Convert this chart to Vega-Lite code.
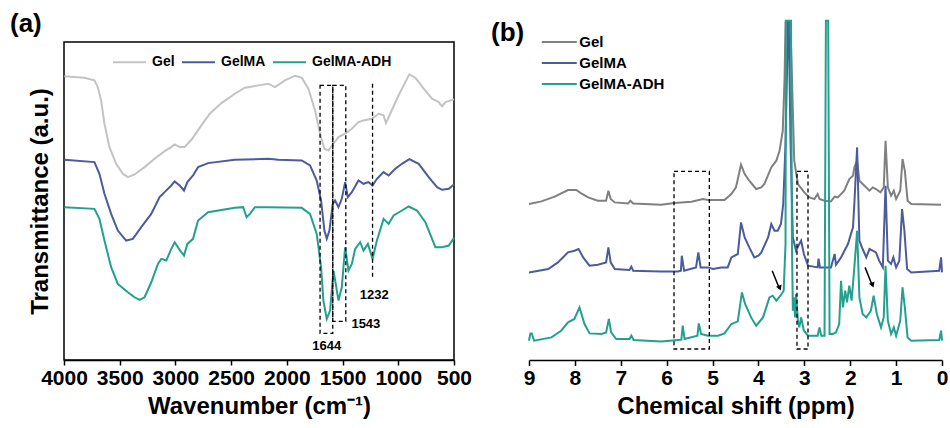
{
"$schema":"https://vega.github.io/schema/vega-lite/v6.json",
"padding":{"left":9,"top":10,"right":0,"bottom":0},
"background":"white",
"config":{
 "font":"Liberation Sans",
 "axis":{"labelFont":"Liberation Sans","titleFont":"Liberation Sans","labelFontWeight":"bold","titleFontWeight":"bold","labelFontSize":21,"titleFontSize":24,"labelColor":"black","titleColor":"black","domainColor":"black","tickColor":"black","domainWidth":1.5,"tickWidth":1.5,"grid":false},
 "title":{"font":"Liberation Sans","fontSize":26,"fontWeight":"bold","color":"black"}
},
"spacing":75,
"bounds":"flush",
"resolve":{"scale":{"color":"independent","x":"independent","y":"independent"},"legend":{"color":"independent"}},
"hconcat":[
{
 "width":390,"height":318,
 "title":{"text":"(a)","anchor":"start","frame":"group","dx":-54,"offset":-21,"baseline":"bottom"},
 "view":{"stroke":"black","strokeWidth":1.5},
 "layer":[
  {"data":{"values":[
{"s":"Gel","x":3997,"y":850},{"s":"Gel","x":3817,"y":846},{"s":"Gel","x":3727,"y":838},{"s":"Gel","x":3697,"y":818},{"s":"Gel","x":3667,"y":778},{"s":"Gel","x":3637,"y":708},{"s":"Gel","x":3592,"y":638},{"s":"Gel","x":3532,"y":588},{"s":"Gel","x":3472,"y":558},{"s":"Gel","x":3427,"y":548},{"s":"Gel","x":3367,"y":556},{"s":"Gel","x":3277,"y":578},{"s":"Gel","x":3187,"y":603},{"s":"Gel","x":3097,"y":626},{"s":"Gel","x":3037,"y":638},{"s":"Gel","x":3007,"y":646},{"s":"Gel","x":2962,"y":638},{"s":"Gel","x":2917,"y":638},{"s":"Gel","x":2857,"y":660},{"s":"Gel","x":2767,"y":703},{"s":"Gel","x":2692,"y":738},{"s":"Gel","x":2587,"y":770},{"s":"Gel","x":2467,"y":798},{"s":"Gel","x":2377,"y":816},{"s":"Gel","x":2332,"y":818},{"s":"Gel","x":2257,"y":823},{"s":"Gel","x":2167,"y":828},{"s":"Gel","x":2107,"y":818},{"s":"Gel","x":2017,"y":838},{"s":"Gel","x":1927,"y":852},{"s":"Gel","x":1867,"y":846},{"s":"Gel","x":1807,"y":813},{"s":"Gel","x":1747,"y":748},{"s":"Gel","x":1702,"y":678},{"s":"Gel","x":1663,"y":633},{"s":"Gel","x":1627,"y":628},{"s":"Gel","x":1582,"y":648},{"s":"Gel","x":1537,"y":668},{"s":"Gel","x":1477,"y":678},{"s":"Gel","x":1417,"y":693},{"s":"Gel","x":1357,"y":713},{"s":"Gel","x":1312,"y":718},{"s":"Gel","x":1237,"y":723},{"s":"Gel","x":1177,"y":738},{"s":"Gel","x":1132,"y":733},{"s":"Gel","x":1111,"y":710},{"s":"Gel","x":1072,"y":738},{"s":"Gel","x":1012,"y":783},{"s":"Gel","x":952,"y":823},{"s":"Gel","x":901,"y":856},{"s":"Gel","x":847,"y":846},{"s":"Gel","x":772,"y":813},{"s":"Gel","x":697,"y":783},{"s":"Gel","x":637,"y":773},{"s":"Gel","x":607,"y":760},{"s":"Gel","x":577,"y":773},{"s":"Gel","x":500,"y":781},
{"s":"GelMA","x":3997,"y":600},{"s":"GelMA","x":3727,"y":593},{"s":"GelMA","x":3682,"y":558},{"s":"GelMA","x":3637,"y":498},{"s":"GelMA","x":3577,"y":438},{"s":"GelMA","x":3517,"y":388},{"s":"GelMA","x":3442,"y":358},{"s":"GelMA","x":3382,"y":363},{"s":"GelMA","x":3307,"y":398},{"s":"GelMA","x":3217,"y":438},{"s":"GelMA","x":3142,"y":488},{"s":"GelMA","x":3097,"y":503},{"s":"GelMA","x":3037,"y":523},{"s":"GelMA","x":3007,"y":535},{"s":"GelMA","x":2962,"y":523},{"s":"GelMA","x":2923,"y":508},{"s":"GelMA","x":2893,"y":533},{"s":"GelMA","x":2842,"y":553},{"s":"GelMA","x":2797,"y":578},{"s":"GelMA","x":2707,"y":590},{"s":"GelMA","x":2467,"y":600},{"s":"GelMA","x":2167,"y":603},{"s":"GelMA","x":2077,"y":600},{"s":"GelMA","x":1867,"y":598},{"s":"GelMA","x":1792,"y":583},{"s":"GelMA","x":1732,"y":538},{"s":"GelMA","x":1693,"y":478},{"s":"GelMA","x":1663,"y":388},{"s":"GelMA","x":1642,"y":363},{"s":"GelMA","x":1618,"y":388},{"s":"GelMA","x":1588,"y":468},{"s":"GelMA","x":1567,"y":478},{"s":"GelMA","x":1537,"y":458},{"s":"GelMA","x":1507,"y":483},{"s":"GelMA","x":1477,"y":533},{"s":"GelMA","x":1453,"y":488},{"s":"GelMA","x":1417,"y":503},{"s":"GelMA","x":1357,"y":538},{"s":"GelMA","x":1312,"y":528},{"s":"GelMA","x":1267,"y":533},{"s":"GelMA","x":1231,"y":523},{"s":"GelMA","x":1192,"y":543},{"s":"GelMA","x":1132,"y":563},{"s":"GelMA","x":1087,"y":553},{"s":"GelMA","x":1027,"y":573},{"s":"GelMA","x":967,"y":588},{"s":"GelMA","x":901,"y":602},{"s":"GelMA","x":817,"y":588},{"s":"GelMA","x":727,"y":548},{"s":"GelMA","x":652,"y":518},{"s":"GelMA","x":607,"y":510},{"s":"GelMA","x":547,"y":513},{"s":"GelMA","x":500,"y":526},
{"s":"GelMA-ADH","x":3997,"y":458},{"s":"GelMA-ADH","x":3727,"y":453},{"s":"GelMA-ADH","x":3682,"y":423},{"s":"GelMA-ADH","x":3637,"y":358},{"s":"GelMA-ADH","x":3577,"y":278},{"s":"GelMA-ADH","x":3517,"y":228},{"s":"GelMA-ADH","x":3427,"y":203},{"s":"GelMA-ADH","x":3367,"y":188},{"s":"GelMA-ADH","x":3322,"y":180},{"s":"GelMA-ADH","x":3277,"y":188},{"s":"GelMA-ADH","x":3217,"y":233},{"s":"GelMA-ADH","x":3157,"y":288},{"s":"GelMA-ADH","x":3127,"y":303},{"s":"GelMA-ADH","x":3082,"y":298},{"s":"GelMA-ADH","x":3037,"y":333},{"s":"GelMA-ADH","x":3007,"y":353},{"s":"GelMA-ADH","x":2962,"y":330},{"s":"GelMA-ADH","x":2923,"y":313},{"s":"GelMA-ADH","x":2893,"y":348},{"s":"GelMA-ADH","x":2842,"y":363},{"s":"GelMA-ADH","x":2797,"y":418},{"s":"GelMA-ADH","x":2707,"y":443},{"s":"GelMA-ADH","x":2467,"y":456},{"s":"GelMA-ADH","x":2392,"y":458},{"s":"GelMA-ADH","x":2362,"y":428},{"s":"GelMA-ADH","x":2332,"y":438},{"s":"GelMA-ADH","x":2287,"y":458},{"s":"GelMA-ADH","x":2167,"y":458},{"s":"GelMA-ADH","x":1867,"y":456},{"s":"GelMA-ADH","x":1792,"y":438},{"s":"GelMA-ADH","x":1732,"y":378},{"s":"GelMA-ADH","x":1693,"y":278},{"s":"GelMA-ADH","x":1672,"y":178},{"s":"GelMA-ADH","x":1642,"y":123},{"s":"GelMA-ADH","x":1612,"y":148},{"s":"GelMA-ADH","x":1582,"y":268},{"s":"GelMA-ADH","x":1561,"y":228},{"s":"GelMA-ADH","x":1537,"y":178},{"s":"GelMA-ADH","x":1507,"y":218},{"s":"GelMA-ADH","x":1477,"y":338},{"s":"GelMA-ADH","x":1447,"y":268},{"s":"GelMA-ADH","x":1417,"y":288},{"s":"GelMA-ADH","x":1387,"y":333},{"s":"GelMA-ADH","x":1342,"y":353},{"s":"GelMA-ADH","x":1312,"y":328},{"s":"GelMA-ADH","x":1273,"y":348},{"s":"GelMA-ADH","x":1231,"y":303},{"s":"GelMA-ADH","x":1192,"y":358},{"s":"GelMA-ADH","x":1132,"y":423},{"s":"GelMA-ADH","x":1087,"y":408},{"s":"GelMA-ADH","x":1042,"y":433},{"s":"GelMA-ADH","x":967,"y":448},{"s":"GelMA-ADH","x":907,"y":460},{"s":"GelMA-ADH","x":832,"y":448},{"s":"GelMA-ADH","x":757,"y":413},{"s":"GelMA-ADH","x":667,"y":338},{"s":"GelMA-ADH","x":607,"y":338},{"s":"GelMA-ADH","x":547,"y":343},{"s":"GelMA-ADH","x":500,"y":366}
  ]},
  "mark":{"type":"line","strokeWidth":2},
  "encoding":{
   "x":{"field":"x","type":"quantitative","scale":{"domain":[500,4000],"reverse":true,"nice":false,"zero":false},
        "axis":{"title":"Wavenumber (cm⁻¹)","values":[500,750,1000,1250,1500,1750,2000,2250,2500,2750,3000,3250,3500,3750,4000],"format":"d","labelExpr":"datum.value % 500 === 0 ? datum.label : ''","tickSize":{"condition":{"test":"datum.value % 500 === 0","value":5},"value":3.5},"labelPadding":2,"titlePadding":6,"labelOverlap":false,"labelFlush":false}},
   "y":{"field":"y","type":"quantitative","scale":{"domain":[0,953],"nice":false,"zero":false},
        "axis":{"title":"Transmittance (a.u.)","labels":false,"ticks":false,"domain":false,"titlePadding":12}},
   "color":{"field":"s","type":"nominal","scale":{"domain":["Gel","GelMA","GelMA-ADH"],"range":["#c3c3c3","#4b5b9c","#23a08e"]},
        "legend":{"orient":"none","legendX":48,"legendY":2.5,"direction":"horizontal","title":null,"symbolType":"stroke","symbolSize":1089,"symbolStrokeWidth":2,"labelFontSize":14,"labelFontWeight":"bold","labelFont":"Liberation Sans","labelColor":"black","columnPadding":3,"labelOffset":5,"padding":0}}
  }},
  {"data":{"values":[{"x1":1702,"x2":1588,"y1":823,"y2":80},{"x1":1588,"x2":1471,"y1":823,"y2":116}]},
   "mark":{"type":"rect","filled":false,"stroke":"black","strokeWidth":1.3,"strokeDash":[4,3]},
   "encoding":{"x":{"field":"x1","type":"quantitative"},"x2":{"field":"x2"},"y":{"field":"y1","type":"quantitative"},"y2":{"field":"y2"}}},
  {"data":{"values":[{"x":1231,"y1":828,"y2":248}]},
   "mark":{"type":"rule","strokeDash":[4,3],"strokeWidth":1.3,"color":"black"},
   "encoding":{"x":{"field":"x","type":"quantitative"},"y":{"field":"y1","type":"quantitative"},"y2":{"field":"y2"}}},
  {"data":{"values":[{"x":1642,"y":41,"t":"1644"},{"x":1291,"y":108,"t":"1543"},{"x":1216,"y":196,"t":"1232"}]},
   "mark":{"type":"text","font":"Liberation Sans","fontSize":13,"fontWeight":"bold","color":"black"},
   "encoding":{"x":{"field":"x","type":"quantitative"},"y":{"field":"y","type":"quantitative"},"text":{"field":"t"}}}
 ]
},
{
 "width":413,"height":318,
 "title":{"text":"(b)","anchor":"start","frame":"group","dx":-38,"offset":-55,"baseline":"bottom"},
 "view":{"stroke":null},
 "layer":[
  {"data":{"values":[
{"s":"Gel","p":9.0,"v":156},{"s":"Gel","p":8.73,"v":158.6},{"s":"Gel","p":8.44,"v":163.3},{"s":"Gel","p":8.15,"v":170},{"s":"Gel","p":7.97,"v":170},{"s":"Gel","p":7.86,"v":166.6},{"s":"Gel","p":7.71,"v":162.6},{"s":"Gel","p":7.5,"v":159.3},{"s":"Gel","p":7.32,"v":159.3},{"s":"Gel","p":7.27,"v":169.3},{"s":"Gel","p":7.22,"v":161},{"s":"Gel","p":7.13,"v":157.6},{"s":"Gel","p":6.84,"v":156.6},{"s":"Gel","p":6.79,"v":159.3},{"s":"Gel","p":6.73,"v":156.6},{"s":"Gel","p":6.12,"v":155.3},{"s":"Gel","p":5.83,"v":157},{"s":"Gel","p":5.46,"v":158.3},{"s":"Gel","p":5.21,"v":161},{"s":"Gel","p":5.1,"v":160},{"s":"Gel","p":4.74,"v":160},{"s":"Gel","p":4.59,"v":166},{"s":"Gel","p":4.49,"v":172.6},{"s":"Gel","p":4.38,"v":195.3},{"s":"Gel","p":4.3,"v":186},{"s":"Gel","p":4.2,"v":179.3},{"s":"Gel","p":4.05,"v":171},{"s":"Gel","p":3.94,"v":172.6},{"s":"Gel","p":3.87,"v":176},{"s":"Gel","p":3.72,"v":192.6},{"s":"Gel","p":3.61,"v":199.3},{"s":"Gel","p":3.54,"v":209.3},{"s":"Gel","p":3.47,"v":229.3},{"s":"Gel","p":3.43,"v":282.6},{"s":"Gel","p":3.41,"v":338.3},{"s":"Gel","p":3.31,"v":338.3},{"s":"Gel","p":3.28,"v":299.3},{"s":"Gel","p":3.25,"v":249.3},{"s":"Gel","p":3.22,"v":199.3},{"s":"Gel","p":3.14,"v":176},{"s":"Gel","p":3.0,"v":167.6},{"s":"Gel","p":2.89,"v":162.6},{"s":"Gel","p":2.78,"v":161},{"s":"Gel","p":2.71,"v":166},{"s":"Gel","p":2.67,"v":161},{"s":"Gel","p":2.56,"v":159.3},{"s":"Gel","p":2.42,"v":158.6},{"s":"Gel","p":2.34,"v":163.3},{"s":"Gel","p":2.27,"v":162.6},{"s":"Gel","p":2.13,"v":169.3},{"s":"Gel","p":2.02,"v":181},{"s":"Gel","p":1.94,"v":184.3},{"s":"Gel","p":1.91,"v":192.6},{"s":"Gel","p":1.85,"v":199.3},{"s":"Gel","p":1.8,"v":179.3},{"s":"Gel","p":1.69,"v":174.3},{"s":"Gel","p":1.58,"v":169.3},{"s":"Gel","p":1.51,"v":172.6},{"s":"Gel","p":1.44,"v":171},{"s":"Gel","p":1.34,"v":167.6},{"s":"Gel","p":1.27,"v":172.6},{"s":"Gel","p":1.23,"v":219.3},{"s":"Gel","p":1.18,"v":172.6},{"s":"Gel","p":1.11,"v":164.3},{"s":"Gel","p":1.05,"v":169.3},{"s":"Gel","p":1.0,"v":161},{"s":"Gel","p":0.91,"v":169.3},{"s":"Gel","p":0.86,"v":201},{"s":"Gel","p":0.81,"v":189.3},{"s":"Gel","p":0.75,"v":159.3},{"s":"Gel","p":0.67,"v":156},{"s":"Gel","p":0.02,"v":155.3},
{"s":"GelMA","p":9.0,"v":87.6},{"s":"GelMA","p":8.58,"v":91},{"s":"GelMA","p":8.37,"v":97.6},{"s":"GelMA","p":8.15,"v":107.6},{"s":"GelMA","p":8.01,"v":109.3},{"s":"GelMA","p":7.92,"v":111},{"s":"GelMA","p":7.82,"v":102.6},{"s":"GelMA","p":7.68,"v":94.3},{"s":"GelMA","p":7.5,"v":95.3},{"s":"GelMA","p":7.32,"v":97.6},{"s":"GelMA","p":7.27,"v":112.6},{"s":"GelMA","p":7.22,"v":97.6},{"s":"GelMA","p":7.13,"v":91},{"s":"GelMA","p":6.81,"v":90},{"s":"GelMA","p":6.77,"v":93.3},{"s":"GelMA","p":6.73,"v":89.3},{"s":"GelMA","p":6.12,"v":88.6},{"s":"GelMA","p":5.75,"v":88.6},{"s":"GelMA","p":5.69,"v":89.3},{"s":"GelMA","p":5.67,"v":104.3},{"s":"GelMA","p":5.62,"v":89.3},{"s":"GelMA","p":5.36,"v":92.6},{"s":"GelMA","p":5.31,"v":107.6},{"s":"GelMA","p":5.26,"v":92.6},{"s":"GelMA","p":5.1,"v":92.6},{"s":"GelMA","p":4.99,"v":91},{"s":"GelMA","p":4.81,"v":92.6},{"s":"GelMA","p":4.67,"v":92.6},{"s":"GelMA","p":4.59,"v":102.6},{"s":"GelMA","p":4.45,"v":106},{"s":"GelMA","p":4.38,"v":137.6},{"s":"GelMA","p":4.3,"v":122.6},{"s":"GelMA","p":4.2,"v":112.6},{"s":"GelMA","p":4.09,"v":102.6},{"s":"GelMA","p":4.0,"v":104.3},{"s":"GelMA","p":3.94,"v":107.3},{"s":"GelMA","p":3.79,"v":122.6},{"s":"GelMA","p":3.72,"v":136},{"s":"GelMA","p":3.65,"v":129.3},{"s":"GelMA","p":3.58,"v":129.3},{"s":"GelMA","p":3.51,"v":136},{"s":"GelMA","p":3.46,"v":156},{"s":"GelMA","p":3.41,"v":216},{"s":"GelMA","p":3.38,"v":282.6},{"s":"GelMA","p":3.36,"v":338.3},{"s":"GelMA","p":3.34,"v":338.3},{"s":"GelMA","p":3.3,"v":216},{"s":"GelMA","p":3.25,"v":122.6},{"s":"GelMA","p":3.18,"v":109.3},{"s":"GelMA","p":3.11,"v":116},{"s":"GelMA","p":3.07,"v":119.3},{"s":"GelMA","p":3.01,"v":106},{"s":"GelMA","p":2.92,"v":94.3},{"s":"GelMA","p":2.71,"v":92.6},{"s":"GelMA","p":2.69,"v":101.3},{"s":"GelMA","p":2.66,"v":92.6},{"s":"GelMA","p":2.42,"v":92.6},{"s":"GelMA","p":2.34,"v":106},{"s":"GelMA","p":2.31,"v":95.3},{"s":"GelMA","p":2.2,"v":102.6},{"s":"GelMA","p":2.05,"v":116},{"s":"GelMA","p":1.94,"v":132.6},{"s":"GelMA","p":1.91,"v":156},{"s":"GelMA","p":1.85,"v":212.6},{"s":"GelMA","p":1.8,"v":119.3},{"s":"GelMA","p":1.73,"v":111},{"s":"GelMA","p":1.65,"v":102.6},{"s":"GelMA","p":1.58,"v":111},{"s":"GelMA","p":1.51,"v":109.3},{"s":"GelMA","p":1.44,"v":107.6},{"s":"GelMA","p":1.37,"v":99.3},{"s":"GelMA","p":1.29,"v":92.6},{"s":"GelMA","p":1.23,"v":174.3},{"s":"GelMA","p":1.18,"v":99.3},{"s":"GelMA","p":1.11,"v":96},{"s":"GelMA","p":1.06,"v":102.6},{"s":"GelMA","p":1.0,"v":92.6},{"s":"GelMA","p":0.93,"v":99.3},{"s":"GelMA","p":0.87,"v":151},{"s":"GelMA","p":0.82,"v":129.3},{"s":"GelMA","p":0.76,"v":91},{"s":"GelMA","p":0.67,"v":87.6},{"s":"GelMA","p":0.06,"v":89.3},{"s":"GelMA","p":0.02,"v":102.6},{"s":"GelMA","p":0.0,"v":87.6},
{"s":"GelMA-ADH","p":9.0,"v":19.3},{"s":"GelMA-ADH","p":8.97,"v":26.6},{"s":"GelMA-ADH","p":8.94,"v":26.6},{"s":"GelMA-ADH","p":8.89,"v":19.3},{"s":"GelMA-ADH","p":8.51,"v":22.6},{"s":"GelMA-ADH","p":8.3,"v":29.3},{"s":"GelMA-ADH","p":8.15,"v":37.6},{"s":"GelMA-ADH","p":8.01,"v":41},{"s":"GelMA-ADH","p":7.9,"v":52.6},{"s":"GelMA-ADH","p":7.79,"v":36},{"s":"GelMA-ADH","p":7.68,"v":26.6},{"s":"GelMA-ADH","p":7.42,"v":26},{"s":"GelMA-ADH","p":7.32,"v":27.6},{"s":"GelMA-ADH","p":7.26,"v":41},{"s":"GelMA-ADH","p":7.21,"v":27.6},{"s":"GelMA-ADH","p":7.1,"v":21},{"s":"GelMA-ADH","p":6.81,"v":21},{"s":"GelMA-ADH","p":6.77,"v":24.3},{"s":"GelMA-ADH","p":6.72,"v":20},{"s":"GelMA-ADH","p":6.12,"v":18.6},{"s":"GelMA-ADH","p":5.75,"v":20},{"s":"GelMA-ADH","p":5.68,"v":20.3},{"s":"GelMA-ADH","p":5.65,"v":34.3},{"s":"GelMA-ADH","p":5.61,"v":21},{"s":"GelMA-ADH","p":5.33,"v":24.3},{"s":"GelMA-ADH","p":5.3,"v":36.6},{"s":"GelMA-ADH","p":5.25,"v":26},{"s":"GelMA-ADH","p":5.1,"v":24.3},{"s":"GelMA-ADH","p":4.88,"v":24.3},{"s":"GelMA-ADH","p":4.74,"v":26.6},{"s":"GelMA-ADH","p":4.59,"v":36},{"s":"GelMA-ADH","p":4.45,"v":38.6},{"s":"GelMA-ADH","p":4.36,"v":67.6},{"s":"GelMA-ADH","p":4.29,"v":56},{"s":"GelMA-ADH","p":4.16,"v":42.6},{"s":"GelMA-ADH","p":4.05,"v":34.3},{"s":"GelMA-ADH","p":3.9,"v":42.6},{"s":"GelMA-ADH","p":3.76,"v":62.6},{"s":"GelMA-ADH","p":3.69,"v":64.3},{"s":"GelMA-ADH","p":3.61,"v":59.3},{"s":"GelMA-ADH","p":3.52,"v":64.3},{"s":"GelMA-ADH","p":3.45,"v":69.3},{"s":"GelMA-ADH","p":3.41,"v":116},{"s":"GelMA-ADH","p":3.4,"v":339.3},{"s":"GelMA-ADH","p":3.29,"v":339.3},{"s":"GelMA-ADH","p":3.27,"v":116},{"s":"GelMA-ADH","p":3.25,"v":49.3},{"s":"GelMA-ADH","p":3.23,"v":62.6},{"s":"GelMA-ADH","p":3.2,"v":42.6},{"s":"GelMA-ADH","p":3.18,"v":66},{"s":"GelMA-ADH","p":3.14,"v":39.3},{"s":"GelMA-ADH","p":3.11,"v":32.6},{"s":"GelMA-ADH","p":3.07,"v":42.6},{"s":"GelMA-ADH","p":3.01,"v":29.3},{"s":"GelMA-ADH","p":2.92,"v":24.3},{"s":"GelMA-ADH","p":2.71,"v":24.3},{"s":"GelMA-ADH","p":2.67,"v":32.6},{"s":"GelMA-ADH","p":2.63,"v":24.3},{"s":"GelMA-ADH","p":2.56,"v":24.3},{"s":"GelMA-ADH","p":2.53,"v":339.3},{"s":"GelMA-ADH","p":2.48,"v":339.3},{"s":"GelMA-ADH","p":2.45,"v":26},{"s":"GelMA-ADH","p":2.38,"v":26},{"s":"GelMA-ADH","p":2.31,"v":27.6},{"s":"GelMA-ADH","p":2.24,"v":36},{"s":"GelMA-ADH","p":2.2,"v":79.3},{"s":"GelMA-ADH","p":2.16,"v":52.6},{"s":"GelMA-ADH","p":2.11,"v":69.3},{"s":"GelMA-ADH","p":2.07,"v":57.6},{"s":"GelMA-ADH","p":2.02,"v":74.3},{"s":"GelMA-ADH","p":1.97,"v":59.3},{"s":"GelMA-ADH","p":1.91,"v":92.6},{"s":"GelMA-ADH","p":1.85,"v":129.3},{"s":"GelMA-ADH","p":1.8,"v":62.6},{"s":"GelMA-ADH","p":1.73,"v":46},{"s":"GelMA-ADH","p":1.65,"v":42.6},{"s":"GelMA-ADH","p":1.55,"v":49.3},{"s":"GelMA-ADH","p":1.49,"v":64.3},{"s":"GelMA-ADH","p":1.42,"v":46},{"s":"GelMA-ADH","p":1.33,"v":32.6},{"s":"GelMA-ADH","p":1.27,"v":42.6},{"s":"GelMA-ADH","p":1.23,"v":94.3},{"s":"GelMA-ADH","p":1.18,"v":39.3},{"s":"GelMA-ADH","p":1.11,"v":26},{"s":"GelMA-ADH","p":1.05,"v":32.6},{"s":"GelMA-ADH","p":1.0,"v":24.3},{"s":"GelMA-ADH","p":0.91,"v":39.3},{"s":"GelMA-ADH","p":0.86,"v":72.6},{"s":"GelMA-ADH","p":0.81,"v":52.6},{"s":"GelMA-ADH","p":0.75,"v":22.6},{"s":"GelMA-ADH","p":0.67,"v":19.3},{"s":"GelMA-ADH","p":0.06,"v":20},{"s":"GelMA-ADH","p":0.02,"v":29.3},{"s":"GelMA-ADH","p":0.0,"v":19.3}
  ]},
  "mark":{"type":"line","strokeWidth":2},
  "encoding":{
   "x":{"field":"p","type":"quantitative","scale":{"domain":[0,9],"reverse":true,"nice":false,"zero":false},
        "axis":{"title":"Chemical shift (ppm)","values":[0,0.5,1,1.5,2,2.5,3,3.5,4,4.5,5,5.5,6,6.5,7,7.5,8,8.5,9],"format":"d","labelExpr":"datum.value % 1 === 0 ? datum.label : ''","tickSize":{"condition":{"test":"datum.value % 1 === 0","value":5.5},"value":3.5},"labelPadding":2,"titlePadding":6,"labelOverlap":false,"labelFlush":false}},
   "y":{"field":"v","type":"quantitative","scale":{"domain":[0,318],"nice":false,"zero":false},"axis":null},
   "color":{"field":"s","type":"nominal","scale":{"domain":["Gel","GelMA","GelMA-ADH"],"range":["#808080","#4b5b9c","#23a08e"]},
        "legend":{"orient":"none","legendX":10.3,"legendY":-7.5,"direction":"vertical","title":null,"symbolType":"M-1,0H6","symbolSize":100,"symbolStrokeWidth":2,"labelFontSize":15,"labelFontWeight":"bold","labelFont":"Liberation Sans","labelColor":"black","rowPadding":5,"labelOffset":25,"padding":0}}
  }},
  {"data":{"values":[{"x1":5.84,"x2":5.07,"y1":188.6,"y2":11},{"x1":3.16,"x2":2.92,"y1":188.6,"y2":11}]},
   "mark":{"type":"rect","filled":false,"stroke":"black","strokeWidth":1.3,"strokeDash":[4,3]},
   "encoding":{"x":{"field":"x1","type":"quantitative"},"x2":{"field":"x2"},"y":{"field":"y1","type":"quantitative"},"y2":{"field":"y2"}}},
  {"data":{"values":[{"x1":3.7,"y1":89.3,"x2":3.54,"y2":71},{"x1":1.676,"y1":92.6,"x2":1.515,"y2":74}]},
   "mark":{"type":"rule","strokeWidth":1.5,"color":"black"},
   "encoding":{"x":{"field":"x1","type":"quantitative"},"y":{"field":"y1","type":"quantitative"},"x2":{"field":"x2"},"y2":{"field":"y2"}}},
  {"data":{"values":[{"x":3.535,"y":72},{"x":1.511,"y":75}]},
   "mark":{"type":"point","shape":"triangle-down","filled":true,"size":35,"angle":338,"color":"black","opacity":1},
   "encoding":{"x":{"field":"x","type":"quantitative"},"y":{"field":"y","type":"quantitative"}}}
 ]
}
]
}
